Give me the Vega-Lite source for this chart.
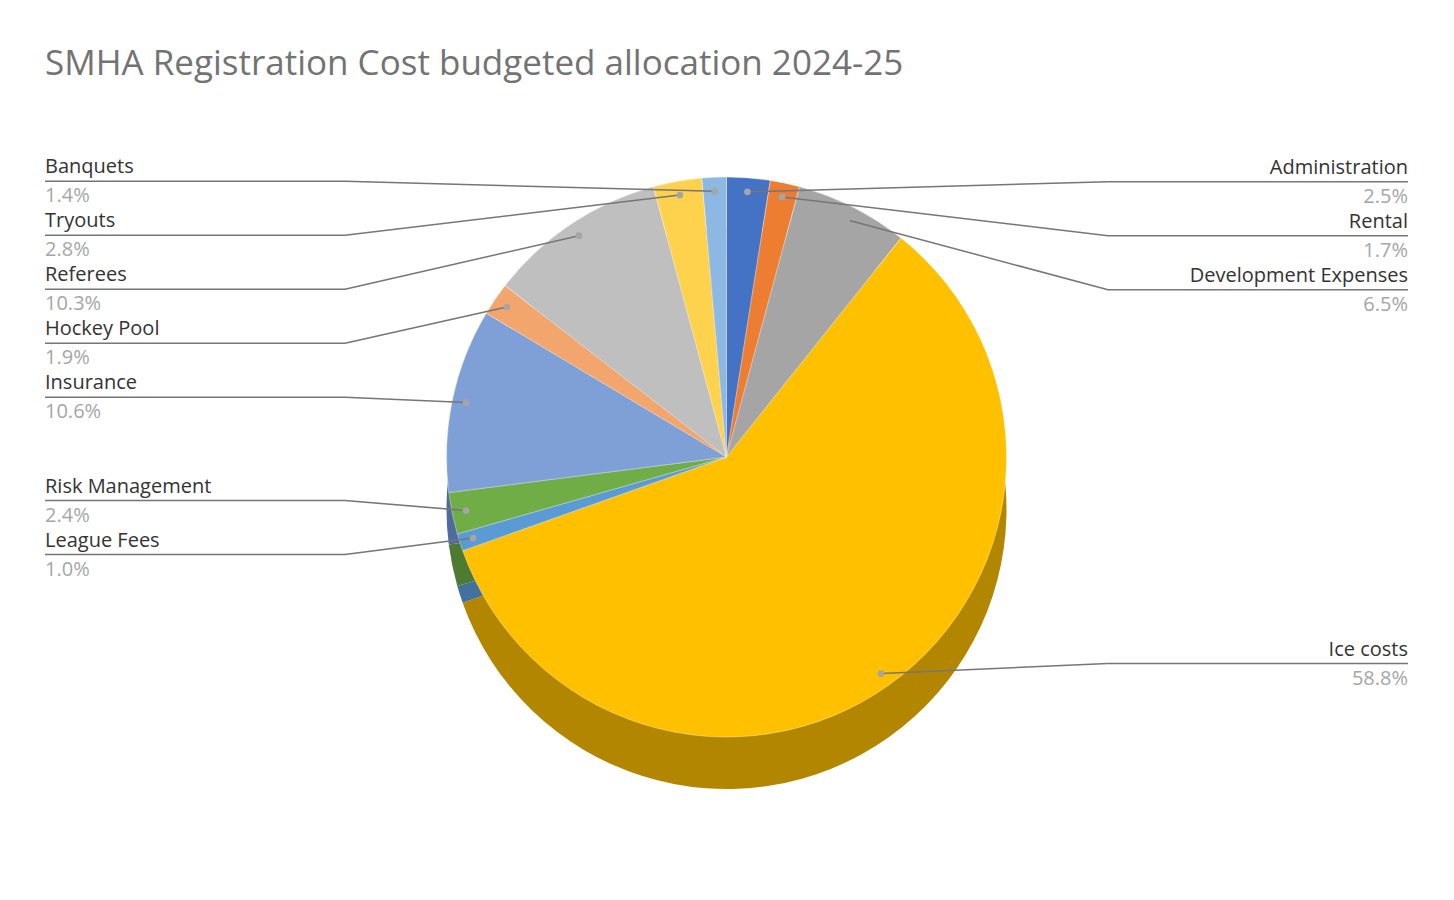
{
  "$schema": "https://vega.github.io/schema/vega-lite/v6.json",
  "width": 1363,
  "height": 714,
  "autosize": {"type": "none"},
  "padding": {"left": 45, "right": 46, "top": 100, "bottom": 86},
  "background": "#ffffff",
  "config": {"view": {"stroke": null}, "font": "Open Sans"},
  "title": {
    "text": "SMHA Registration Cost budgeted allocation 2024-25",
    "anchor": "start",
    "frame": "group",
    "baseline": "alphabetic",
    "offset": -10,
    "font": "Open Sans",
    "fontSize": 35,
    "fontWeight": "normal",
    "color": "#737373"
  },
  "data": {
    "values": [
      {"cat": "Administration", "value": 2.5},
      {"cat": "Rental", "value": 1.7},
      {"cat": "Development Expenses", "value": 6.5},
      {"cat": "Ice costs", "value": 58.8},
      {"cat": "League Fees", "value": 1.0},
      {"cat": "Risk Management", "value": 2.4},
      {"cat": "Insurance", "value": 10.6},
      {"cat": "Hockey Pool", "value": 1.9},
      {"cat": "Referees", "value": 10.3},
      {"cat": "Tryouts", "value": 2.8},
      {"cat": "Banquets", "value": 1.4}
    ]
  },
  "transform": [
    {"window": [{"op": "row_number", "as": "idx"}]},
    {"window": [{"op": "sum", "field": "value", "as": "cum"}], "sort": [{"field": "idx"}], "frame": [null, 0]},
    {"joinaggregate": [{"op": "sum", "field": "value", "as": "total"}]},
    {"calculate": "(datum.cum - datum.value) / datum.total", "as": "f0"},
    {"calculate": "datum.cum / datum.total", "as": "f1"},
    {"calculate": "PI * (datum.f0 + datum.f1)", "as": "am"},
    {"calculate": "681.5 + 266 * sin(datum.am)", "as": "px"},
    {"calculate": "357 - 266 * cos(datum.am)", "as": "py"},
    {"calculate": "datum.am < PI ? 'R' : 'L'", "as": "side"},
    {"calculate": "datum.side === 'R' ? datum.am : 2 * PI - datum.am", "as": "k"},
    {"window": [{"op": "row_number", "as": "rank"}], "groupby": ["side"], "sort": [{"field": "k"}]},
    {"calculate": "datum.py - 10 - 54 * datum.rank", "as": "t"},
    {"window": [{"op": "max", "field": "t", "as": "m"}], "groupby": ["side"], "sort": [{"field": "k"}], "frame": [null, 0]},
    {"calculate": "datum.m + 54 * datum.rank", "as": "ly"},
    {"calculate": "datum.side === 'R' ? 1063 : 300", "as": "ex"},
    {"calculate": "datum.side === 'R' ? 1363 : 0", "as": "lx"},
    {"calculate": "format(datum.value, '.1f') + '%'", "as": "pct"}
  ],
  "layer": [
    {
      "mark": {"type": "arc", "outerRadius": 280, "yOffset": 52},
      "encoding": {
        "theta": {"field": "f0", "type": "quantitative", "scale": {"domain": [0, 1]}},
        "theta2": {"field": "f1"},
        "color": {
          "field": "cat", "type": "nominal", "legend": null,
          "scale": {
            "domain": ["Administration", "Rental", "Development Expenses", "Ice costs", "League Fees", "Risk Management", "Insurance", "Hockey Pool", "Referees", "Tryouts", "Banquets"],
            "range": ["#2F5597", "#A5561F", "#737373", "#B38600", "#41719C", "#4E7A32", "#4F6A9E", "#AB724D", "#868686", "#B39436", "#6482A0"]
          }
        }
      }
    },
    {
      "mark": {"type": "arc", "outerRadius": 280, "stroke": "#ffffff", "strokeWidth": 0.6, "strokeOpacity": 0.6},
      "encoding": {
        "theta": {"field": "f0", "type": "quantitative", "scale": {"domain": [0, 1]}},
        "theta2": {"field": "f1"},
        "fill": {
          "field": "cat", "type": "nominal", "legend": null,
          "scale": {
            "domain": ["Administration", "Rental", "Development Expenses", "Ice costs", "League Fees", "Risk Management", "Insurance", "Hockey Pool", "Referees", "Tryouts", "Banquets"],
            "range": ["#4472C4", "#ED7D31", "#A5A5A5", "#FFC000", "#5B9BD5", "#70AD47", "#7F9FD7", "#F3A56E", "#BFBFBF", "#FFD24E", "#8CB8E3"]
          }
        }
      }
    },
    {
      "mark": {"type": "rule", "color": "#767676", "strokeWidth": 1.5},
      "encoding": {
        "x": {"field": "px", "type": "quantitative", "scale": {"domain": [0, 1363], "nice": false, "zero": false}, "axis": null},
        "y": {"field": "py", "type": "quantitative", "scale": {"domain": [0, 714], "nice": false, "zero": false, "reverse": true}, "axis": null},
        "x2": {"field": "ex"},
        "y2": {"field": "ly"}
      }
    },
    {
      "mark": {"type": "rule", "color": "#767676", "strokeWidth": 1.5},
      "encoding": {
        "x": {"field": "ex", "type": "quantitative"},
        "y": {"field": "ly", "type": "quantitative"},
        "x2": {"field": "lx"}
      }
    },
    {
      "mark": {"type": "point", "filled": true, "size": 45, "color": "#A5A5A5", "opacity": 1},
      "encoding": {
        "x": {"field": "px", "type": "quantitative"},
        "y": {"field": "py", "type": "quantitative"}
      }
    },
    {
      "mark": {"type": "text", "font": "Open Sans", "fontSize": 20, "color": "#333333", "baseline": "alphabetic", "dy": -8,
               "align": {"expr": "datum.side === 'R' ? 'right' : 'left'"}},
      "encoding": {
        "x": {"field": "lx", "type": "quantitative"},
        "y": {"field": "ly", "type": "quantitative"},
        "text": {"field": "cat"}
      }
    },
    {
      "mark": {"type": "text", "font": "Open Sans", "fontSize": 20, "color": "#A6A6A6", "baseline": "alphabetic", "dy": 21,
               "align": {"expr": "datum.side === 'R' ? 'right' : 'left'"}},
      "encoding": {
        "x": {"field": "lx", "type": "quantitative"},
        "y": {"field": "ly", "type": "quantitative"},
        "text": {"field": "pct"}
      }
    }
  ],
  "resolve": {"scale": {"color": "independent", "fill": "independent"}}
}
